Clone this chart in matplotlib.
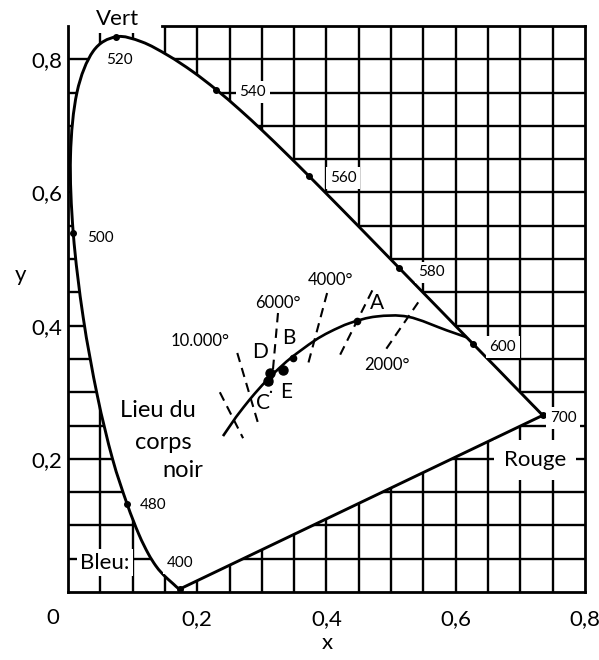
import matplotlib
matplotlib.use('Agg')
import matplotlib.pyplot as plt
from matplotlib.path import Path
from matplotlib.patches import PathPatch

plt.rcParams['font.family'] = ['Lato', 'DejaVu Sans']

# Spectral locus (CIE 1931), wavelength in nm and chromaticity x, y
wl = [380, 385, 390, 395, 400, 405, 410, 415, 420, 425, 430, 435, 440, 445,
      450, 455, 460, 465, 470, 475, 480, 485, 490, 495, 500, 505, 510, 515,
      520, 525, 530, 535, 540, 545, 550, 555, 560, 565, 570, 575, 580, 585,
      590, 595, 600, 605, 610, 615, 620, 625, 630, 635, 640, 645, 650, 655,
      660, 665, 670, 675, 680, 690, 700]
loc_x = [0.1741, 0.1740, 0.1738, 0.1736, 0.1733, 0.1730, 0.1726, 0.1721,
         0.1714, 0.1703, 0.1689, 0.1669, 0.1644, 0.1611, 0.1566, 0.1510,
         0.1440, 0.1355, 0.1241, 0.1096, 0.0913, 0.0687, 0.0454, 0.0235,
         0.0082, 0.0039, 0.0139, 0.0389, 0.0743, 0.1142, 0.1547, 0.1929,
         0.2296, 0.2658, 0.3016, 0.3373, 0.3731, 0.4087, 0.4441, 0.4788,
         0.5125, 0.5448, 0.5752, 0.6029, 0.6270, 0.6482, 0.6658, 0.6801,
         0.6915, 0.7006, 0.7079, 0.7140, 0.7190, 0.7230, 0.7260, 0.7283,
         0.7300, 0.7311, 0.7320, 0.7327, 0.7334, 0.7344, 0.7347]
loc_y = [0.0050, 0.0050, 0.0049, 0.0049, 0.0048, 0.0048, 0.0048, 0.0048,
         0.0051, 0.0058, 0.0069, 0.0086, 0.0109, 0.0138, 0.0177, 0.0227,
         0.0297, 0.0399, 0.0578, 0.0868, 0.1327, 0.2007, 0.2950, 0.4127,
         0.5384, 0.6548, 0.7502, 0.8120, 0.8338, 0.8262, 0.8059, 0.7816,
         0.7543, 0.7243, 0.6923, 0.6589, 0.6245, 0.5896, 0.5547, 0.5202,
         0.4866, 0.4544, 0.4242, 0.3965, 0.3725, 0.3514, 0.3340, 0.3197,
         0.3083, 0.2993, 0.2920, 0.2859, 0.2809, 0.2770, 0.2740, 0.2717,
         0.2700, 0.2689, 0.2680, 0.2673, 0.2666, 0.2656, 0.2653]

# Labelled wavelengths
mark_wl = [400, 480, 500, 520, 540, 560, 580, 600, 700]
mark_lab = ['400', '480', '500', '520', '540', '560', '580', '600', '700']
mark_tx = [0.173, 0.132, 0.050, 0.080, 0.286, 0.426, 0.563, 0.673, 0.766]
mark_ty = [0.044, 0.131, 0.532, 0.799, 0.751, 0.622, 0.480, 0.368, 0.261]
mark_box = [True, False, False, False, True, True, True, True, True]

# Black-body locus (infinite temperature down to where it meets the locus)
bb_x = [0.2399, 0.2565, 0.2637, 0.2807, 0.2952, 0.3064, 0.3221, 0.3451,
        0.3805, 0.4053, 0.4369, 0.4770, 0.5267, 0.5857, 0.6170]
bb_y = [0.2342, 0.2577, 0.2674, 0.2884, 0.3048, 0.3166, 0.3318, 0.3516,
        0.3768, 0.3907, 0.4041, 0.4137, 0.4133, 0.3931, 0.3825]

# Isotemperature lines (dashed)
iso_x0 = [0.235, 0.262, 0.325, 0.401, 0.471, 0.542]
iso_y0 = [0.300, 0.359, 0.419, 0.449, 0.453, 0.435]
iso_x1 = [0.271, 0.294, 0.314, 0.372, 0.421, 0.491]
iso_y1 = [0.231, 0.254, 0.299, 0.344, 0.356, 0.363]
iso_lab = ['10.000°', '6000°', '4000°', '2000°']
iso_tx = [0.205, 0.325, 0.406, 0.494]
iso_ty = [0.377, 0.434, 0.468, 0.341]

# Standard illuminants
ill_name = ['A', 'B', 'C', 'D', 'E']
ill_x = [0.4476, 0.3484, 0.3101, 0.3127, 0.3333]
ill_y = [0.4074, 0.3516, 0.3162, 0.3290, 0.3333]
ill_size = [4.5, 4.5, 6.5, 6.5, 6.5]
ill_tx = [0.478, 0.341, 0.302, 0.297, 0.337]
ill_ty = [0.434, 0.381, 0.284, 0.360, 0.300]

grid_step = 0.05
xmax, ymax = 0.8, 0.85


def smooth_path(xs, ys, closed=False):
    # Catmull-Rom through the points, drawn as cubic Bezier segments
    pts = list(zip(xs, ys))
    verts = [pts[0]]
    codes = [Path.MOVETO]
    for i in range(len(pts) - 1):
        p0 = pts[max(i - 1, 0)]
        p1 = pts[i]
        p2 = pts[i + 1]
        p3 = pts[min(i + 2, len(pts) - 1)]
        c1 = (p1[0] + (p2[0] - p0[0]) / 6, p1[1] + (p2[1] - p0[1]) / 6)
        c2 = (p2[0] - (p3[0] - p1[0]) / 6, p2[1] - (p3[1] - p1[1]) / 6)
        verts += [c1, c2, p2]
        codes += [Path.CURVE4] * 3
    if closed:
        verts += [pts[0], pts[0]]
        codes += [Path.LINETO, Path.CLOSEPOLY]
    return Path(verts, codes)


fig = plt.figure(figsize=(5.99, 6.6), dpi=100)
ax = fig.add_axes([0.1135, 0.103, 0.863, 0.8576])
ax.set_xlim(0, xmax)
ax.set_ylim(0, ymax)

# grid, then blank out the inside of the spectral locus
n = 1
while n * grid_step < xmax - 1e-9:
    ax.axvline(n * grid_step, color='k', lw=1.7, zorder=1)
    n += 1
n = 1
while n * grid_step < ymax - 1e-9:
    ax.axhline(n * grid_step, color='k', lw=1.7, zorder=1)
    n += 1
ax.add_patch(PathPatch(smooth_path(loc_x, loc_y, closed=True),
                       fc='white', ec='k', lw=2.1, zorder=3))

for w, lab, tx, ty, box in zip(mark_wl, mark_lab, mark_tx, mark_ty, mark_box):
    i = wl.index(w)
    ax.plot(loc_x[i], loc_y[i], 'o', color='k', ms=4, zorder=4)
    kw = {}
    if box:
        kw['bbox'] = dict(boxstyle='square,pad=0.25', fc='white', ec='none')
    ax.text(tx, ty, lab, fontsize=11, ha='center', va='center', zorder=5, **kw)

# black body locus and isotherms
ax.add_patch(PathPatch(smooth_path(bb_x, bb_y), fc='none', ec='k', lw=1.9,
                       zorder=4))
for x0, y0, x1, y1 in zip(iso_x0, iso_y0, iso_x1, iso_y1):
    ax.plot([x0, x1], [y0, y1], color='k', lw=1.5, ls=(0, (4.5, 3)), zorder=4)
for lab, tx, ty in zip(iso_lab, iso_tx, iso_ty):
    ax.text(tx, ty, lab, fontsize=12, ha='center', va='center', zorder=5)

for name, x, y, s, tx, ty in zip(ill_name, ill_x, ill_y, ill_size, ill_tx, ill_ty):
    ax.plot(x, y, 'o', color='k', ms=s, zorder=5)
    ax.text(tx, ty, name, fontsize=15, ha='center', va='center', zorder=5)

ax.text(0.197, 0.273, 'Lieu du', fontsize=17, ha='right', va='center')
ax.text(0.192, 0.225, 'corps', fontsize=17, ha='right', va='center')
ax.text(0.210, 0.183, 'noir', fontsize=17, ha='right', va='center')

wbox = dict(boxstyle='square,pad=0.45', fc='white', ec='none')
ax.text(0.723, 0.198, 'Rouge', fontsize=16, ha='center', va='center',
        zorder=5, bbox=wbox)
ax.text(0.057, 0.044, 'Bleu:', fontsize=16, ha='center', va='center',
        zorder=5, bbox=dict(boxstyle='square,pad=0.15', fc='white', ec='none'))
ax.text(0.076, 0.861, 'Vert', fontsize=16, ha='center', va='center',
        zorder=5, clip_on=False,
        bbox=dict(boxstyle='square,pad=0.2', fc='white', ec='none'))

# frame: top border only where the grid continues
ax.spines['top'].set_visible(False)
for s in ['left', 'right', 'bottom']:
    ax.spines[s].set_linewidth(2)
    ax.spines[s].set_zorder(6)
ax.axhline(ymax, xmin=0.145 / xmax, color='k', lw=2, clip_on=False, zorder=6)

ax.set_xticks([0.2, 0.4, 0.6, 0.8])
ax.set_xticklabels(['0,2', '0,4', '0,6', '0,8'])
ax.set_yticks([0.2, 0.4, 0.6, 0.8])
ax.set_yticklabels(['0,2', '0,4', '0,6', '0,8'])
ax.tick_params(axis='x', length=0, pad=12, labelsize=16)
ax.tick_params(axis='y', length=0, pad=4, labelsize=16)
ax.text(-0.023, -0.039, '0', fontsize=16, ha='center', va='center', clip_on=False)
ax.text(0.402, -0.077, 'x', fontsize=16, ha='center', va='center', clip_on=False)
ax.text(-0.074, 0.476, 'y', fontsize=16, ha='center', va='center', clip_on=False)

fig.savefig('out.png', dpi=100, facecolor='white')
